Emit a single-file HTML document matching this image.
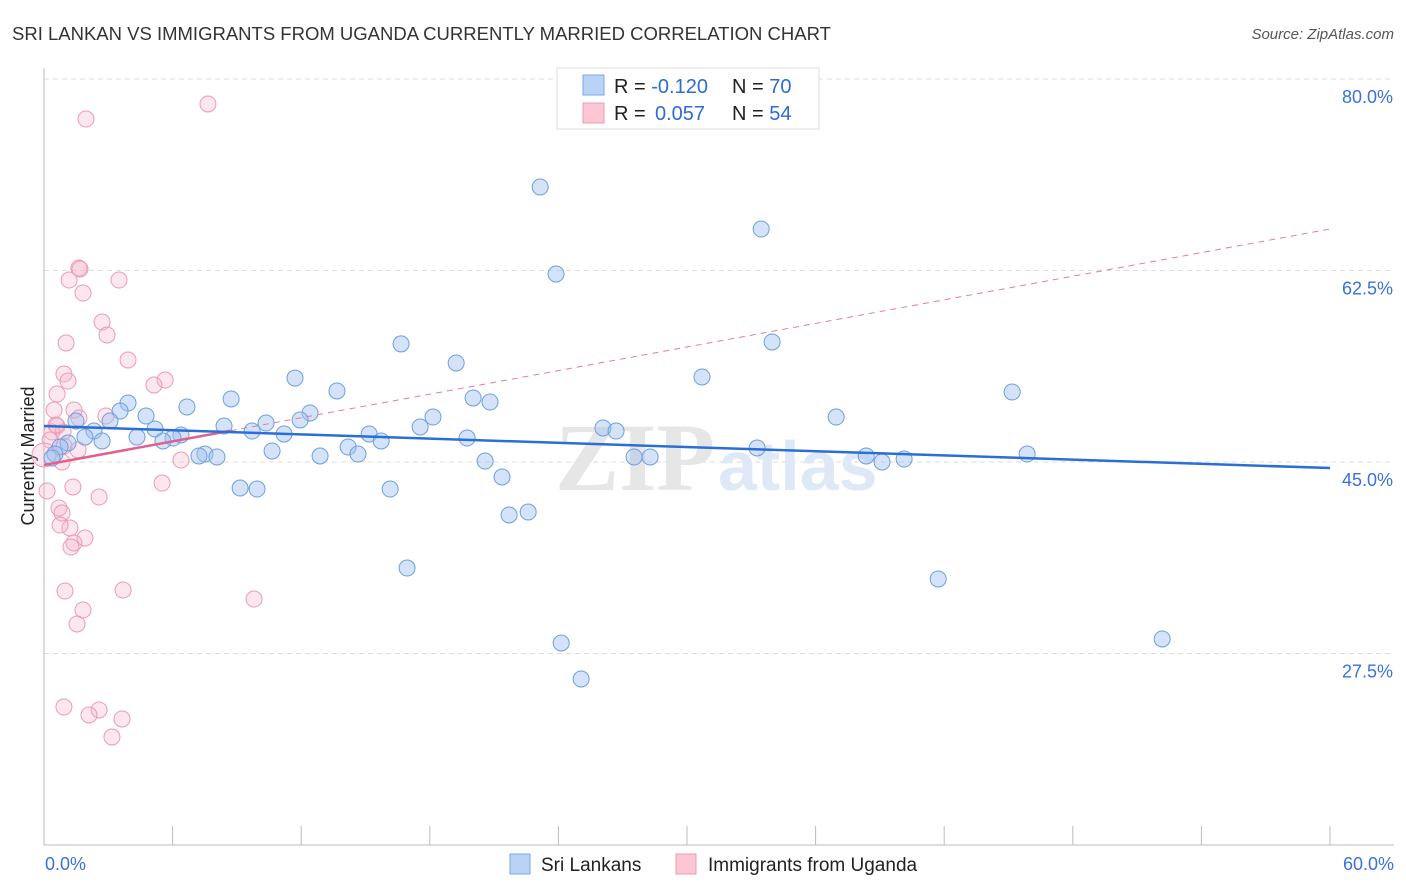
<!DOCTYPE html>
<html><head><meta charset="utf-8"><style>
body{margin:0;background:#fff;font-family:"Liberation Sans",sans-serif;}
svg{display:block}
</style></head><body>
<svg id="chart" width="1406" height="892" xmlns="http://www.w3.org/2000/svg">
<text x="12" y="40" font-size="18.5" fill="#333">SRI LANKAN VS IMMIGRANTS FROM UGANDA CURRENTLY MARRIED CORRELATION CHART</text>
<text x="1394" y="39" font-size="15" fill="#555" font-style="italic" text-anchor="end">Source: ZipAtlas.com</text>
<text transform="translate(34,456) rotate(-90)" font-size="18" fill="#222" text-anchor="middle">Currently Married</text>
<g id="grid"></g>
<text x="555" y="490" font-size="96" font-family="Liberation Serif,serif" fill="#e6e6e6" font-weight="bold">ZIP</text>
<text x="718" y="490" font-size="70" fill="#dfe8f6" font-weight="bold">atlas</text>
<g id="marks"></g>
<g>
<rect x="557" y="68" width="262" height="61" fill="#fff" stroke="#ddd"/>
<rect x="583" y="75" width="21" height="20" fill="#b8d3f6" stroke="#7ba7e6"/>
<rect x="583" y="103" width="21" height="20" fill="#fcc6d5" stroke="#ee9ab5"/>
<text x="614" y="93" font-size="20" fill="#222">R = <tspan fill="#2e6bd4">-0.120</tspan></text>
<text x="732" y="93" font-size="20" fill="#222">N = <tspan fill="#2e6bd4">70</tspan></text>
<text x="614" y="120" font-size="20" fill="#222">R = <tspan fill="#2e6bd4" x="655">0.057</tspan></text>
<text x="732" y="120" font-size="20" fill="#222">N = <tspan fill="#2e6bd4">54</tspan></text>
</g>
<g>
<rect x="510" y="854" width="20" height="20" fill="#b8d3f6" stroke="#7ba7e6"/>
<text x="541" y="871" font-size="19" fill="#222">Sri Lankans</text>
<rect x="676" y="854" width="20" height="20" fill="#fcc6d5" stroke="#ee9ab5"/>
<text x="708" y="871" font-size="19" fill="#222">Immigrants from Uganda</text>
</g>
</svg>
<script>
const yTicks=[80,62.5,45,27.5];
const yTickLabels=["80.0%","62.5%","45.0%","27.5%"];
const xTicks=[0,6,12,18,24,30,36,42,48,54,60];
const blueX=[23.15,33.46,23.89,16.66,33.97,19.23,11.71,30.70,13.67,45.17,3.92,6.67,8.73,20.02,20.81,3.55,4.76,12.41,18.15,36.96,3.08,1.49,10.36,8.40,11.95,17.55,9.71,5.18,2.33,11.20,15.17,26.08,26.69,1.91,4.34,6.39,6.02,5.55,19.74,2.71,15.73,14.19,1.12,0.75,10.64,14.65,12.88,7.51,7.23,8.07,33.27,27.53,28.28,38.36,39.10,40.13,45.87,20.58,21.37,9.15,9.94,16.15,21.70,22.59,16.94,41.72,24.13,52.17,25.06,0.51,0.37];
const blueY=[70.13,66.29,62.18,55.79,55.97,54.05,52.67,52.77,51.49,51.40,50.39,50.03,50.76,50.85,50.48,49.66,49.20,49.48,49.11,49.11,48.75,48.75,48.56,48.29,48.84,48.20,47.83,48.02,47.83,47.56,47.56,48.11,47.83,47.28,47.28,47.47,47.19,46.92,47.19,46.92,46.92,46.37,46.74,46.37,46.01,45.73,45.55,45.73,45.55,45.46,46.28,45.46,45.46,45.55,45.00,45.27,45.73,45.09,43.63,42.62,42.53,42.53,40.16,40.43,35.31,34.31,28.46,28.83,25.17,45.73,45.37];
const pinkX=[7.65,1.96,1.63,1.68,1.17,3.50,1.82,2.71,2.94,1.03,3.92,0.93,1.12,5.65,5.13,0.61,0.47,1.40,2.89,1.63,0.61,0.37,0.89,0.28,0.93,1.59,6.39,0.84,5.51,1.35,0.14,2.57,0.70,0.84,1.21,0.75,1.91,1.40,1.26,0.98,3.69,9.80,1.82,1.54,0.93,2.57,2.10,3.64,3.17,0.56,0.0];
const pinkY=[77.72,76.34,62.73,62.64,61.63,61.63,60.44,57.79,56.61,55.88,54.32,53.04,52.40,52.49,52.04,51.21,49.75,49.75,49.20,49.02,48.29,47.74,47.74,47.01,46.46,46.10,45.18,45.00,43.08,42.72,42.35,41.80,40.80,40.34,38.97,39.24,38.05,37.60,37.23,33.21,33.30,32.48,31.48,30.20,22.61,22.34,21.88,21.52,19.87,48.38,45.64];
const blueTrend=[48.29,44.45];
const pinkTrend=[44.73,66.29];
const pinkSolidEnd=8.7;

const NS="http://www.w3.org/2000/svg";
const X0=44,X1=1330,XMIN=0,XMAX=60,Y80=79,PXPER=10.943;
const sx=v=>X0+(v-XMIN)/(XMAX-XMIN)*(X1-X0);
const sy=v=>Y80+(80-v)*PXPER;
function mk(t,a,p){const e=document.createElementNS(NS,t);for(const k in a)e.setAttribute(k,a[k]);p.appendChild(e);return e;}
const grid=document.getElementById('grid'),marks=document.getElementById('marks');
yTicks.forEach((t,i)=>{
 const l=mk('line',{x1:X0,x2:1394,y1:sy(t),y2:sy(t),stroke:'#ddd','stroke-dasharray':'5,4'},grid);
 
 
 const tx=mk('text',{x:1393,y:sy(t)+24,'font-size':18,fill:'#3a72d8','text-anchor':'end'},grid);
 tx.textContent=yTickLabels[i];
 
 
});
const ax=mk('line',{x1:X0,x2:1394,y1:845,y2:845,stroke:'#bbb'},grid);


const ay=mk('line',{x1:X0,x2:X0,y1:68,y2:845,stroke:'#bbb'},grid);


xTicks.forEach(t=>{
 const l=mk('line',{x1:sx(t),x2:sx(t),y1:826,y2:845,stroke:'#bbb'},grid);
 
 
});
[[0,"0.0%","start",45],[60,"60.0%","end",1394]].forEach(d=>{
 const tx=mk('text',{x:d[3],y:870,'font-size':18,fill:'#3a72d8','text-anchor':d[2]},grid);
 tx.textContent=d[1];
 
 
});
pinkX.forEach((x,i)=>{
 const c=mk('circle',{cx:sx(x),cy:sy(pinkY[i]),r:(x===0?12:8),fill:'rgba(246,176,200,0.3)',stroke:'#ec9ab6','stroke-width':1},marks);
 
 
});
blueX.forEach((x,i)=>{
 const c=mk('circle',{cx:sx(x),cy:sy(blueY[i]),r:8,fill:'rgba(160,194,240,0.45)',stroke:'#6d9fe0','stroke-width':1},marks);
 
 
});
const pv=x=>pinkTrend[0]+(pinkTrend[1]-pinkTrend[0])*x/60;
const pd=mk('line',{x1:sx(pinkSolidEnd),y1:sy(pv(pinkSolidEnd)),x2:sx(60),y2:sy(pinkTrend[1]),stroke:'#e87aa0','stroke-width':1,'stroke-dasharray':'6,5'},marks);


const ps=mk('line',{x1:sx(0),y1:sy(pinkTrend[0]),x2:sx(pinkSolidEnd),y2:sy(pv(pinkSolidEnd)),stroke:'#e0608e','stroke-width':2.5},marks);


const bl=mk('line',{x1:sx(0),y1:sy(blueTrend[0]),x2:sx(60),y2:sy(blueTrend[1]),stroke:'#2a6fd6','stroke-width':2.5},marks);


</script>
</body></html>
